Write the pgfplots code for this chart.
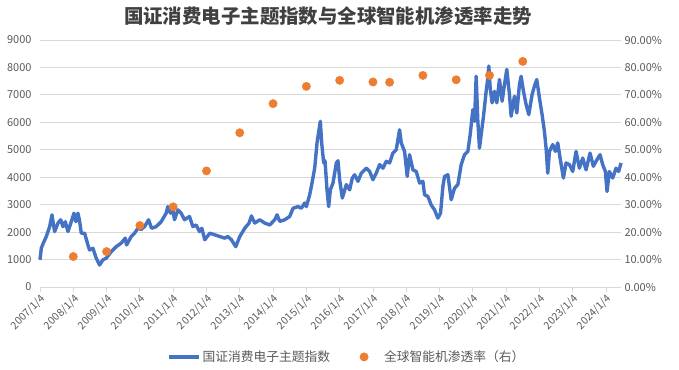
\documentclass[border=0pt]{standalone}
\usepackage{pgfplots}
\pgfplotsset{compat=1.18}
\usepackage{fontspec}
\setmainfont{Noto Sans CJK SC}
\definecolor{lineblue}{HTML}{4472C4}
\definecolor{dotorange}{HTML}{ED7D31}
\definecolor{gridgray}{HTML}{D9D9D9}
\definecolor{tickgray}{HTML}{595959}
\definecolor{titlegray}{HTML}{404040}
\begin{document}
\begin{tikzpicture}
\useasboundingbox (-40bp,-83bp) rectangle (639bp,287bp);
\node[font=\fontsize{19.5}{22}\selectfont\bfseries, text=titlegray] at (288bp,271bp) {国证消费电子主题指数与全球智能机渗透率走势};
\begin{axis}[
  scale only axis, width=581bp, height=247bp,
  xmin=2007, xmax=2024.45, ymin=0, ymax=9000,
  axis x line*=bottom, axis y line*=left,
  y axis line style={draw=none},
  x axis line style={draw=gridgray, line width=0.8bp},
  ytick={0,1000,...,9000},
  xtick={2007,...,2024},
  xticklabel={\pgfmathparse{int(round(\tick))}\pgfmathresult/1/4},
  x tick style={draw=gridgray, line width=0.8bp},
  tick align=outside, major tick length=5bp,
  y tick style={draw=none},
  ymajorgrids, grid style={draw=gridgray, line width=0.8bp},
  /pgf/number format/assume math mode=true,
  /pgf/number format/1000 sep={},
  yticklabel style={font=\fontsize{11}{12}\selectfont, text=tickgray},
  xticklabel style={font=\fontsize{10.5}{12}\selectfont, text=tickgray, rotate=45, anchor=north east, inner sep=1bp},
  clip=false,
]
\addplot[color=lineblue, line width=3.4bp, line join=round, mark=none] coordinates {
(2007.00,990) (2007.04,1420) (2007.10,1600) (2007.19,1840) (2007.29,2200) (2007.36,2630) (2007.40,2300)
(2007.44,2020) (2007.54,2330) (2007.62,2450) (2007.69,2200) (2007.76,2380) (2007.84,2020) (2007.94,2380)
(2008.02,2690) (2008.08,2380) (2008.14,2690) (2008.19,2400) (2008.24,1960) (2008.34,1960) (2008.44,1530)
(2008.49,1350) (2008.59,1410) (2008.69,1050) (2008.79,800) (2008.89,990) (2008.99,1050) (2009.14,1290)
(2009.29,1470) (2009.44,1600) (2009.56,1780) (2009.60,1530) (2009.74,1840) (2009.84,1960) (2009.94,2140)
(2010.04,2100) (2010.14,2200) (2010.26,2450) (2010.35,2140) (2010.49,2200) (2010.64,2380) (2010.79,2690)
(2010.84,2930) (2010.92,2690) (2010.99,2810) (2011.04,2450) (2011.14,2810) (2011.24,2690) (2011.34,2450)
(2011.49,2570) (2011.59,2200) (2011.69,2260) (2011.79,2020) (2011.86,2140) (2011.95,1720) (2012.10,1960)
(2012.25,1900) (2012.40,1840) (2012.55,1780) (2012.64,1840) (2012.75,1720) (2012.88,1470) (2013.00,1840)
(2013.15,2140) (2013.28,2330) (2013.35,2590) (2013.45,2330) (2013.60,2450) (2013.75,2330) (2013.90,2260)
(2014.05,2450) (2014.12,2630) (2014.20,2390) (2014.35,2450) (2014.50,2570) (2014.60,2870) (2014.75,2930)
(2014.85,2870) (2014.95,3060) (2015.00,2930) (2015.10,3360) (2015.15,3660) (2015.25,4330) (2015.32,5250)
(2015.38,5730) (2015.42,6040) (2015.46,5250) (2015.52,4520) (2015.56,4600) (2015.62,3540) (2015.67,2930)
(2015.72,3540) (2015.80,3790) (2015.90,4520) (2015.95,4600) (2016.00,3910) (2016.08,3240) (2016.20,3730)
(2016.30,3540) (2016.38,3970) (2016.45,4090) (2016.55,3850) (2016.65,4150) (2016.80,4330) (2016.90,4210)
(2017.00,3910) (2017.10,4150) (2017.20,4460) (2017.30,4330) (2017.40,4580) (2017.50,4520) (2017.60,4880)
(2017.70,5000) (2017.75,5370) (2017.80,5730) (2017.85,5250) (2017.95,4940) (2018.03,4030) (2018.10,4820)
(2018.20,4270) (2018.30,4210) (2018.40,3790) (2018.50,3850) (2018.55,3360) (2018.65,3300) (2018.75,2990)
(2018.85,2810) (2018.95,2510) (2019.03,2690) (2019.10,3660) (2019.15,4030) (2019.25,4090) (2019.35,3180)
(2019.45,3600) (2019.55,3730) (2019.65,4460) (2019.75,4820) (2019.85,4940) (2019.92,5550) (2020.00,6460)
(2020.05,6040) (2020.10,7680) (2020.15,6040) (2020.20,5060) (2020.25,5550) (2020.32,6220) (2020.40,7130)
(2020.45,7620) (2020.48,8050) (2020.52,7260) (2020.58,6710) (2020.65,7130) (2020.72,6710) (2020.80,7560)
(2020.88,6770) (2020.95,7380) (2021.02,7930) (2021.10,7010) (2021.15,6220) (2021.25,6950) (2021.32,6340)
(2021.40,7380) (2021.45,7680) (2021.52,7130) (2021.60,6650) (2021.68,6280) (2021.78,7010) (2021.85,7320)
(2021.92,7560) (2022.00,6890) (2022.08,6280) (2022.15,5670) (2022.20,5060) (2022.25,4150) (2022.30,4940)
(2022.40,5190) (2022.48,4940) (2022.55,5250) (2022.62,4700) (2022.72,3970) (2022.80,4520) (2022.90,4460)
(2023.00,4210) (2023.10,4940) (2023.20,4330) (2023.30,4700) (2023.40,4270) (2023.52,4880) (2023.62,4400)
(2023.70,4580) (2023.82,4820) (2023.90,4460) (2023.98,4210) (2024.03,3480) (2024.10,4210) (2024.20,3970)
(2024.30,4330) (2024.38,4210) (2024.45,4520)
};
\end{axis}
\begin{axis}[
  scale only axis, width=581bp, height=247bp,
  xmin=2007, xmax=2024.45, ymin=0, ymax=90,
  axis x line=none, axis y line*=right,
  y axis line style={draw=none}, y tick style={draw=none},
  ytick={0,10,...,90},
  yticklabel={\pgfmathprintnumber[fixed,fixed zerofill,precision=2]{\tick}\%},
  /pgf/number format/assume math mode=true,
  yticklabel style={font=\fontsize{11}{12}\selectfont, text=tickgray},
  legend columns=2,
  legend style={at={(0.528,-0.283)}, anchor=center, draw=none, fill=none,
    font=\fontsize{12.8}{14}\selectfont, text=tickgray,
    /tikz/every even column/.append style={column sep=26bp}},
  legend cell align=left,
  clip=false,
]
\addlegendimage{legend image code/.code={\draw[color=lineblue, line width=3.4bp] (0bp,0bp) -- (30bp,0bp);}}
\addlegendentry{国证消费电子主题指数}
\addplot[only marks, mark=*, mark size=4.2bp, color=dotorange, mark options={draw=dotorange, fill=dotorange},
  legend image code/.code={\path[draw=none, fill=none] (0bp,-1bp) rectangle (24bp,1bp); \fill[dotorange] (6bp,0bp) circle (4.2bp);}] coordinates {
(2008,11.1) (2009,12.9) (2010,22.4) (2011,29.2) (2012,42.3) (2013,56.2) (2014,66.8) (2015,73.1)
(2016,75.3) (2017,74.7) (2017.5,74.6) (2018.5,77.1) (2019.5,75.5) (2020.5,77.1) (2021.5,82.2)
};
\addlegendentry{全球智能机渗透率（右）}
\end{axis}
\end{tikzpicture}
\end{document}
